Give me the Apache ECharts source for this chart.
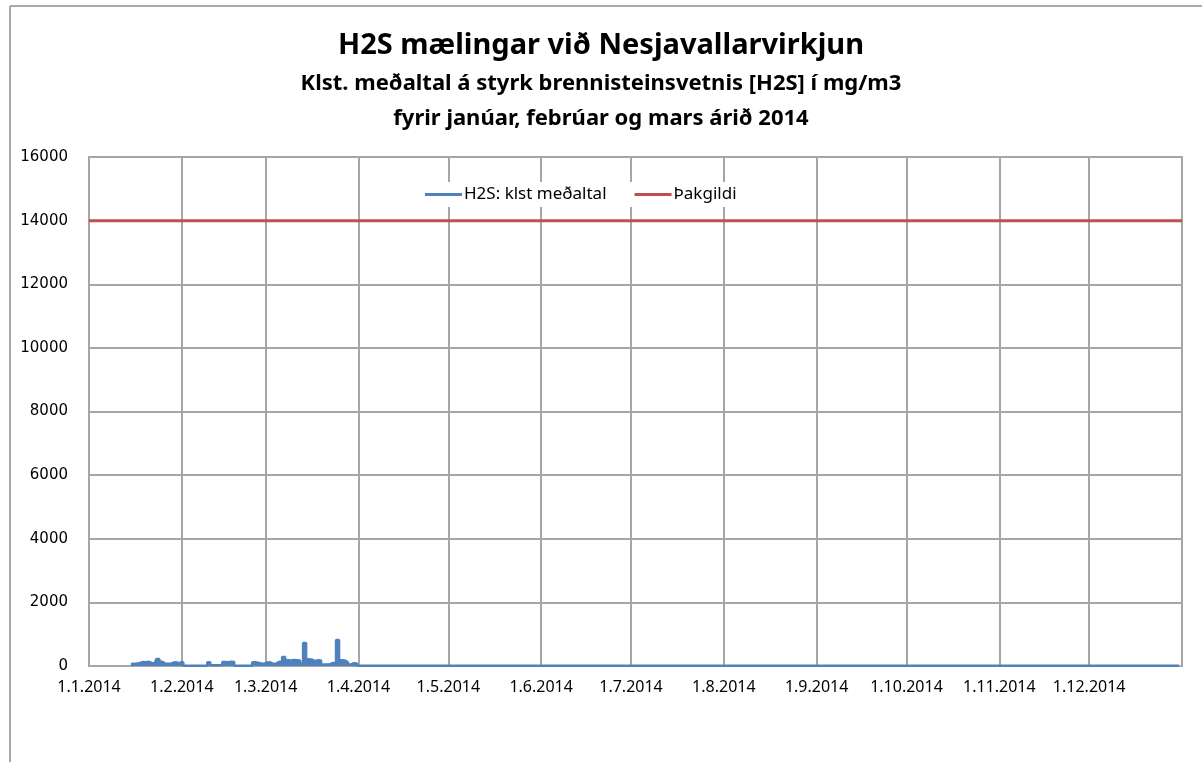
<!DOCTYPE html>
<html>
<head>
<meta charset="utf-8">
<script src="https://cdn.jsdelivr.net/npm/echarts@6/dist/echarts.min.js"></script>
<style>
  html, body { margin: 0; padding: 0; background: #fff; }
  #chart { width: 1202px; height: 762px; }
</style>
</head>
<body>
<div id="chart"></div>
<script>
// hourly means at roughly one value per day
const h2sDates = [
  '2014-01-15', '2014-01-16', '2014-01-17', '2014-01-18', '2014-01-19', '2014-01-20',
  '2014-01-21', '2014-01-22', '2014-01-23', '2014-01-24', '2014-01-25', '2014-01-26',
  '2014-01-27', '2014-01-28', '2014-01-29', '2014-01-30', '2014-01-31', '2014-02-01',
  '2014-02-02', '2014-02-03', '2014-02-04', '2014-02-05', '2014-02-06', '2014-02-07',
  '2014-02-08', '2014-02-09', '2014-02-10', '2014-02-11', '2014-02-12', '2014-02-13',
  '2014-02-14', '2014-02-15', '2014-02-16', '2014-02-17', '2014-02-18', '2014-02-19',
  '2014-02-20', '2014-02-21', '2014-02-22', '2014-02-23', '2014-02-24', '2014-02-25',
  '2014-02-26', '2014-02-27', '2014-02-28', '2014-03-01', '2014-03-02', '2014-03-03',
  '2014-03-04', '2014-03-05', '2014-03-06', '2014-03-07', '2014-03-08', '2014-03-09',
  '2014-03-10', '2014-03-11', '2014-03-12', '2014-03-13', '2014-03-14', '2014-03-15',
  '2014-03-16', '2014-03-17', '2014-03-18', '2014-03-19', '2014-03-20', '2014-03-21',
  '2014-03-22', '2014-03-23', '2014-03-24', '2014-03-25', '2014-03-26', '2014-03-27',
  '2014-03-28', '2014-03-29', '2014-03-30', '2014-03-31', '2014-04-01', '2014-04-02',
  '2014-12-31'
];
const h2sValues = [
  60, 70, 80, 95, 125, 120,
  130, 95, 90, 220, 130, 75,
  70, 80, 115, 110, 50, 115,
  5, 5, 5, 5, 5, 5,
  5, 5, 115, 20, 25, 20,
  30, 125, 120, 130, 125, 10,
  5, 5, 5, 5, 5, 115,
  100, 75, 70, 110, 115, 70,
  80, 135, 130, 280, 180, 175,
  185, 180, 175, 75, 720, 210,
  200, 150, 180, 170, 50, 45,
  55, 95, 90, 820, 180, 170,
  115, 50, 85, 80, 5, 5,
  5
];

const limitDates = ['2014-01-01', '2015-01-01'];
const limitValues = [14000, 14000];

const yTicks = [0, 2000, 4000, 6000, 8000, 10000, 12000, 14000, 16000];

const chart = echarts.init(document.getElementById('chart'));

const gridColor = '#a6a6a6';
const subStyle = { fontFamily: 'Noto Sans', fontWeight: 'bold', fontSize: 22, color: '#000' };

chart.setOption({
  backgroundColor: '#fff',
  animation: false,
  title: [
    {
      text: 'H2S mælingar við Nesjavallarvirkjun',
      left: 'center',
      top: 26,
      textStyle: { fontFamily: 'Noto Sans', fontWeight: 'bold', fontSize: 29, color: '#000' }
    },
    {
      text: 'Klst. meðaltal á styrk brennisteinsvetnis [H2S] í mg/m3',
      left: 'center',
      top: 68,
      textStyle: subStyle
    },
    {
      text: 'fyrir janúar, febrúar og mars árið 2014',
      left: 'center',
      top: 103,
      textStyle: subStyle
    }
  ],
  legend: {
    left: 421,
    top: 182,
    itemWidth: 37,
    itemHeight: 3,
    itemGap: 28,
    padding: [4, 4],
    backgroundColor: '#fff',
    icon: 'rect',
    textStyle: { fontFamily: 'Noto Sans', fontSize: 17, color: '#000', padding: [0, 0, 0, -3] },
    data: ['H2S: klst meðaltal', 'Þakgildi']
  },
  grid: { left: 89, right: 20, top: 157, bottom: 96, show: true, borderColor: gridColor, borderWidth: 2 },
  xAxis: {
    type: 'time',
    min: '2014-01-01',
    max: '2015-01-01',
    splitNumber: 12,
    axisLine: { show: true, lineStyle: { color: gridColor, width: 2 } },
    axisTick: { show: false },
    splitLine: { show: true, lineStyle: { color: gridColor, width: 2 } },
    axisLabel: {
      showMaxLabel: false,
      margin: 13,
      fontFamily: 'Noto Sans',
      fontSize: 16,
      color: '#000',
      formatter: (v) => {
        const d = new Date(v);
        return d.getDate() + '.' + (d.getMonth() + 1) + '.' + d.getFullYear();
      }
    }
  },
  yAxis: {
    type: 'value',
    min: yTicks[0],
    max: yTicks[yTicks.length - 1],
    interval: 2000,
    axisLine: { show: true, lineStyle: { color: gridColor, width: 2 } },
    axisTick: { show: false },
    splitLine: { show: true, lineStyle: { color: gridColor, width: 2 } },
    axisLabel: {
      margin: 21,
      fontFamily: 'DejaVu Sans',
      fontSize: 15,
      color: '#000',
      formatter: (v) => String(v)
    }
  },
  series: [
    {
      name: 'H2S: klst meðaltal',
      type: 'line',
      step: 'middle',
      symbol: 'none',
      color: '#4f81bd',
      lineStyle: { width: 2.5, color: '#4f81bd' },
      areaStyle: { color: '#4f81bd', opacity: 1 },
      data: h2sDates.map((d, i) => [d, h2sValues[i]]),
      z: 3
    },
    {
      name: 'Þakgildi',
      type: 'line',
      symbol: 'none',
      color: '#c0504d',
      lineStyle: { width: 3, color: '#c0504d' },
      data: limitDates.map((d, i) => [d, limitValues[i]]),
      z: 2
    }
  ],
  graphic: [
    { type: 'line', shape: { x1: 10, y1: 6, x2: 1202, y2: 6 }, style: { stroke: '#8c8c8c', lineWidth: 1.5 } },
    { type: 'line', shape: { x1: 10, y1: 6, x2: 10, y2: 762 }, style: { stroke: '#8c8c8c', lineWidth: 1.5 } }
  ]
});
</script>
</body>
</html>
